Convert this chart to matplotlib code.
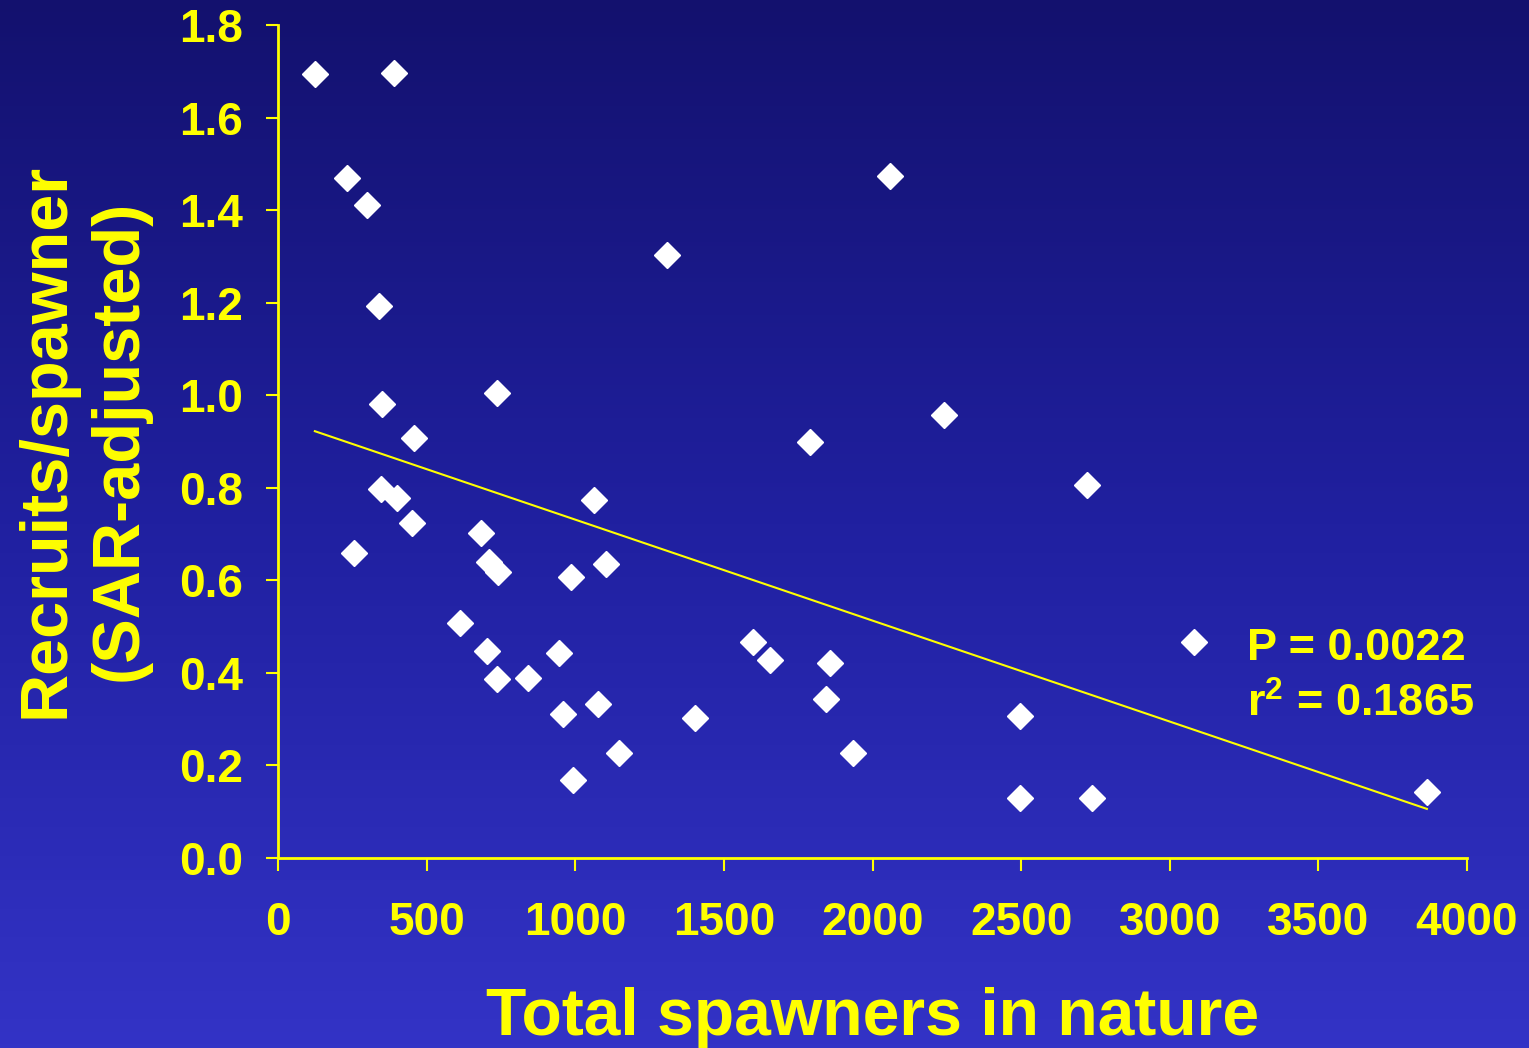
import numpy as np
import matplotlib
matplotlib.use("Agg")
import matplotlib.pyplot as plt
from matplotlib.colors import LinearSegmentedColormap

plt.rcParams['font.family'] = ['Liberation Sans', 'DejaVu Sans']
plt.rcParams['font.weight'] = 'bold'
plt.rcParams['mathtext.fontset'] = 'custom'
plt.rcParams['mathtext.rm'] = 'Liberation Sans:bold'
plt.rcParams['mathtext.bf'] = 'Liberation Sans:bold'
plt.rcParams['mathtext.it'] = 'Liberation Sans:bold'
plt.rcParams['mathtext.default'] = 'bf'

# Spawner abundance and recruits per spawner (SAR-adjusted)
spawners = [124, 390, 232, 299, 340, 350, 737, 458, 347, 400, 451, 256,
            683, 709, 740, 986, 1063, 1103, 612, 703, 737, 841, 945, 959,
            1077, 992, 1147, 1309, 1403, 1598, 1655, 1790, 1857, 1844, 1934,
            2059, 2241, 2496, 2496, 2722, 2738, 3082, 3865]
recruits_per_spawner = [1.694, 1.696, 1.469, 1.411, 1.193, 0.981, 1.005, 0.908,
                        0.797, 0.778, 0.724, 0.659, 0.702, 0.639, 0.618, 0.607,
                        0.774, 0.635, 0.508, 0.447, 0.387, 0.389, 0.443, 0.311,
                        0.333, 0.169, 0.227, 1.303, 0.302, 0.467, 0.428, 0.899,
                        0.421, 0.344, 0.227, 1.474, 0.957, 0.307, 0.130, 0.806,
                        0.130, 0.467, 0.143]

stat_lines = ['P = 0.0022', 'r$^{2}$ = 0.1865']
x_ticks = [0, 500, 1000, 1500, 2000, 2500, 3000, 3500, 4000]
y_ticks = [0.0, 0.2, 0.4, 0.6, 0.8, 1.0, 1.2, 1.4, 1.6, 1.8]

YELLOW = '#ffff00'
W, H = 1529, 1048

fig = plt.figure(figsize=(W / 100, H / 100), dpi=100)

# Vertical blue gradient backdrop
bg = fig.add_axes([0, 0, 1, 1], zorder=-10)
grad = np.linspace(0, 1, 256).reshape(-1, 1)
cmap = LinearSegmentedColormap.from_list('bg', ['#13116e', '#2020a0', '#3333c6'])
bg.imshow(grad, aspect='auto', cmap=cmap, extent=[0, 1, 0, 1], origin='upper')
bg.set_axis_off()

ax = fig.add_axes([278 / W, 1 - 858 / H, 1189 / W, 833 / H])
ax.patch.set_alpha(0)

xs = np.array(spawners, dtype=float)
ys = np.array(recruits_per_spawner, dtype=float)

ax.plot(xs, ys, linestyle='none', marker='D', markersize=13,
        markerfacecolor='white', markeredgecolor='white', clip_on=False, zorder=3)

# Least-squares trend line over the observed range
slope, intercept = np.polyfit(xs, ys, 1)
fx = np.array([xs.min(), xs.max()])
ax.plot(fx, slope * fx + intercept, color=YELLOW, linewidth=1.5, zorder=2)

ax.set_xlim(0, 4000)
ax.set_ylim(0, 1.8)
ax.set_xticks(x_ticks)
ax.set_xticklabels([str(t) for t in x_ticks])
ax.set_yticks(y_ticks)
ax.set_yticklabels([f'{t:.1f}' for t in y_ticks])

for side in ['top', 'right']:
    ax.spines[side].set_visible(False)
for side in ['left', 'bottom']:
    ax.spines[side].set_color(YELLOW)
    ax.spines[side].set_linewidth(2.0)

ax.tick_params(axis='both', colors=YELLOW, labelcolor=YELLOW, width=1.5,
               length=9, direction='out', labelsize=33)
ax.tick_params(axis='x', pad=22)
ax.tick_params(axis='y', pad=16)
for lab in ax.get_xticklabels() + ax.get_yticklabels():
    lab.set_fontweight('bold')

# Axis titles
fig.text(873 / W, 1 - 1035 / H, 'Total spawners in nature', color=YELLOW,
         fontsize=47.5, fontweight='bold', ha='center', va='baseline')
for bx, line in [(63, 'Recruits/spawner'), (137, '(SAR-adjusted)')]:
    fig.text(bx / W, 1 - 440 / H, line, color=YELLOW, fontsize=48,
             fontweight='bold', ha='center', va='baseline', rotation=90,
             rotation_mode='anchor')

# Regression statistics
for by, line in [(660, stat_lines[0]), (717, stat_lines[1])]:
    fig.text(1247 / W, 1 - by / H, line, color=YELLOW, fontsize=32.5,
             fontweight='bold', ha='left', va='baseline')

fig.savefig('out.png', dpi=100)
